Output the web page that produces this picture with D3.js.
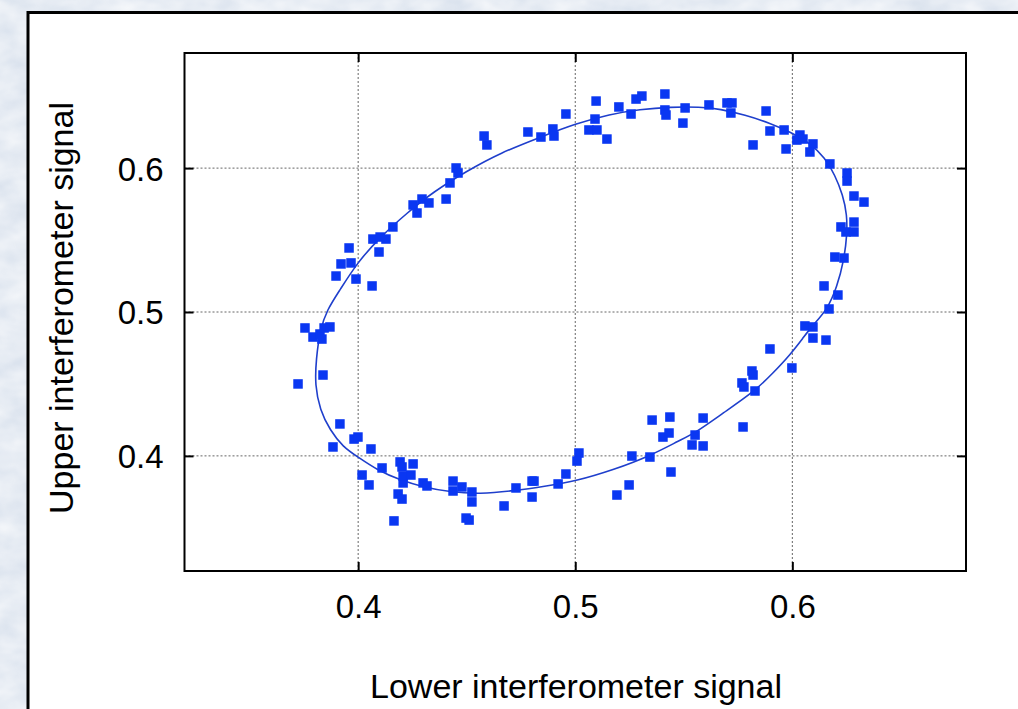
<!DOCTYPE html>
<html>
<head>
<meta charset="utf-8">
<script src="https://cdn.jsdelivr.net/npm/d3@7"></script>
<style>
  body { margin: 0; overflow: hidden; }
</style>
</head>
<body>
<script>
// measured points (lower signal, upper signal)
let lowerSignal = [
    0.3723, 0.3755, 0.3792, 0.3824, 0.3833, 0.3843, 0.3870, 0.3838, 0.3884, 0.3916,
    0.3898, 0.3921, 0.3958, 0.3967, 0.3990, 0.4064, 0.4068, 0.4096, 0.4101, 0.4128,
    0.4160, 0.4253, 0.4271, 0.4294, 0.4326, 0.4405, 0.4423, 0.4451, 0.4460, 0.4580,
    0.4593, 0.4782, 0.4842, 0.4897, 0.4902, 0.4957, 0.5063, 0.5100, 0.5091, 0.5096,
    0.5146, 0.5201, 0.5257, 0.5280, 0.5307, 0.5413, 0.5413, 0.5418, 0.5496, 0.5506,
    0.5616, 0.5699, 0.5722, 0.5717, 0.5879, 0.5897, 0.5962, 0.5819, 0.5971, 0.6035,
    0.6021, 0.6049, 0.6095, 0.6081, 0.6173, 0.6252, 0.6252, 0.6284, 0.6330, 0.6224,
    0.6284, 0.6247, 0.6284, 0.6196, 0.6238, 0.6146, 0.6210, 0.6169, 0.6058, 0.6095,
    0.6095, 0.6155, 0.5897, 0.5998, 0.5814, 0.5819, 0.5768, 0.5777, 0.5828, 0.5773,
    0.5589, 0.5552, 0.5538, 0.5589, 0.5354, 0.5436, 0.5404, 0.5432, 0.5441, 0.5344,
    0.5261, 0.5248, 0.5192, 0.5017, 0.5008, 0.4957, 0.4921, 0.4801, 0.4810, 0.4801,
    0.4727, 0.4672, 0.4524, 0.4524, 0.4478, 0.4437, 0.4437, 0.4497, 0.4511, 0.4299,
    0.4317, 0.4165, 0.4184, 0.4202, 0.4207, 0.4207, 0.4243, 0.4193, 0.4202, 0.4253,
    0.4110, 0.4018, 0.4050, 0.4059, 0.3981, 0.3999
];
let upperSignal = [
    0.4500, 0.4889, 0.4826, 0.4847, 0.4812, 0.4889, 0.4896, 0.4562, 0.4062, 0.4222,
    0.5250, 0.5334, 0.5445, 0.5341, 0.5229, 0.5181, 0.5507, 0.5417, 0.5521, 0.5507,
    0.5591, 0.5744, 0.5688, 0.5785, 0.5758, 0.5785, 0.5897, 0.6001, 0.5966, 0.6223,
    0.6161, 0.6251, 0.6216, 0.6272, 0.6223, 0.6376, 0.6265, 0.6265, 0.6341, 0.6466,
    0.6202, 0.6425, 0.6376, 0.6480, 0.6501, 0.6515, 0.6404, 0.6369, 0.6313, 0.6418,
    0.6439, 0.6453, 0.6453, 0.6383, 0.6397, 0.6258, 0.6265, 0.6161, 0.6133, 0.6230,
    0.6195, 0.6202, 0.6168, 0.6112, 0.6029, 0.5966, 0.5910, 0.5806, 0.5764, 0.5591,
    0.5625, 0.5556, 0.5556, 0.5382, 0.5375, 0.5181, 0.5118, 0.5021, 0.4903, 0.4896,
    0.4819, 0.4805, 0.4743, 0.4611, 0.4590, 0.4562, 0.4507, 0.4479, 0.4451, 0.4201,
    0.4263, 0.4145, 0.4076, 0.4069, 0.4249, 0.4270, 0.4131, 0.4159, 0.3888, 0.3992,
    0.3999, 0.3798, 0.3728, 0.4020, 0.3964, 0.3874, 0.3805, 0.3825, 0.3825, 0.3714,
    0.3777, 0.3652, 0.3749, 0.3680, 0.3784, 0.3825, 0.3756, 0.3568, 0.3554, 0.3812,
    0.3791, 0.3548, 0.3735, 0.3700, 0.3812, 0.3860, 0.3867, 0.3958, 0.3923, 0.3944,
    0.3916, 0.3867, 0.3798, 0.4048, 0.4117, 0.4131
];

// fitted ellipse
let fitX = [
    0.3801, 0.3806, 0.3824, 0.3856, 0.3916, 0.3995, 0.4101, 0.4225, 0.4345, 0.4501,
    0.4653, 0.4851, 0.4999, 0.5160, 0.5298, 0.5436, 0.5575, 0.5667, 0.5782, 0.5897,
    0.5989, 0.6081, 0.6151, 0.6196, 0.6233, 0.6252, 0.6252, 0.6238, 0.6206, 0.6160,
    0.6095, 0.6049, 0.5989, 0.5911, 0.5828, 0.5681, 0.5552, 0.5483, 0.5344, 0.5174,
    0.5003, 0.4870, 0.4713, 0.4561, 0.4423, 0.4299, 0.4193, 0.4087, 0.3999, 0.3930,
    0.3870, 0.3824
];
let fitY = [
    0.4493, 0.4666, 0.4875, 0.5014, 0.5153, 0.5341, 0.5521, 0.5688, 0.5834, 0.5980,
    0.6105, 0.6222, 0.6307, 0.6375, 0.6408, 0.6425, 0.6425, 0.6411, 0.6369, 0.6313,
    0.6251, 0.6175, 0.6070, 0.5952, 0.5813, 0.5674, 0.5535, 0.5361, 0.5174, 0.5014,
    0.4910, 0.4819, 0.4701, 0.4576, 0.4451, 0.4298, 0.4159, 0.4110, 0.3999, 0.3902,
    0.3825, 0.3791, 0.3756, 0.3735, 0.3749, 0.3784, 0.3832, 0.3902, 0.3992, 0.4062,
    0.4180, 0.4319
];

let xTicks = [0.4, 0.5, 0.6];
let yTicks = [0.4, 0.5, 0.6];
let xDomain = [0.32, 0.68];
let yDomain = [0.32, 0.68];

let width = 1018;
let height = 709;
let frame = { left: 184.5, right: 966, top: 53, bottom: 571 };
let font = "'Liberation Sans', Arial, Helvetica, sans-serif";

let points = lowerSignal.map((d, i) => ({ x: d, y: upperSignal[i] }));
let fit = fitX.map((d, i) => ({ x: d, y: fitY[i] }));

let svg = d3.select("body")
    .append("svg")
    .attr("width", width)
    .attr("height", height);

// textured light blue backdrop
let defs = svg.append("defs");
let tex = defs.append("filter")
    .attr("id", "tex")
    .attr("x", 0).attr("y", 0)
    .attr("width", 1).attr("height", 1);
tex.append("feTurbulence")
    .attr("type", "fractalNoise")
    .attr("baseFrequency", "0.03 0.05")
    .attr("numOctaves", 3)
    .attr("seed", 7);
tex.append("feColorMatrix")
    .attr("type", "matrix")
    .attr("values", "0 0 0 0 1  0 0 0 0 1  0 0 0 0 1  0 0 0 -1.2 1.0");

svg.append("rect")
    .attr("width", width)
    .attr("height", height)
    .attr("fill", "#dbe3ee");
svg.append("rect")
    .attr("width", width)
    .attr("height", height)
    .attr("filter", "url(#tex)")
    .attr("opacity", 0.8);

// white panel
svg.append("rect")
    .attr("x", 28)
    .attr("y", 12.5)
    .attr("width", 1100)
    .attr("height", 800)
    .attr("fill", "white")
    .attr("stroke", "black")
    .attr("stroke-width", 3);

let xScale = d3.scaleLinear()
    .domain(xDomain)
    .range([frame.left, frame.right]);
let yScale = d3.scaleLinear()
    .domain(yDomain)
    .range([frame.bottom, frame.top]);

// grid
let grid = svg.append("g").attr("class", "grid");
grid.selectAll("nothing")
    .data(xTicks)
    .join("line")
    .attr("x1", (d) => xScale(d))
    .attr("x2", (d) => xScale(d))
    .attr("y1", frame.top)
    .attr("y2", frame.bottom);
grid.selectAll("nothing")
    .data(yTicks)
    .join("line")
    .attr("x1", frame.left)
    .attr("x2", frame.right)
    .attr("y1", (d) => yScale(d))
    .attr("y2", (d) => yScale(d));
grid.selectAll("line")
    .attr("stroke", "#666")
    .attr("stroke-width", 1)
    .attr("stroke-dasharray", "2,2");

// axes with inward ticks
let xAxis = d3.axisBottom(xScale)
    .tickValues(xTicks)
    .tickFormat(d3.format(".1f"))
    .tickSizeInner(-9)
    .tickSizeOuter(0)
    .tickPadding(24);
let yAxis = d3.axisLeft(yScale)
    .tickValues(yTicks)
    .tickFormat(d3.format(".1f"))
    .tickSizeInner(-9)
    .tickSizeOuter(0)
    .tickPadding(21);
let xTop = d3.axisTop(xScale).tickValues(xTicks).tickFormat("").tickSizeInner(-9).tickSizeOuter(0);
let yRight = d3.axisRight(yScale).tickValues(yTicks).tickFormat("").tickSizeInner(-9).tickSizeOuter(0);

svg.append("g")
    .attr("class", "axis")
    .attr("transform", "translate(0," + frame.bottom + ")")
    .call(xAxis);
svg.append("g")
    .attr("class", "axis")
    .attr("transform", "translate(" + frame.left + ",0)")
    .call(yAxis);
svg.append("g")
    .attr("class", "axis")
    .attr("transform", "translate(0," + frame.top + ")")
    .call(xTop);
svg.append("g")
    .attr("class", "axis")
    .attr("transform", "translate(" + frame.right + ",0)")
    .call(yRight);

svg.selectAll(".axis .domain").remove();
svg.selectAll(".axis line")
    .attr("stroke", "black")
    .attr("stroke-width", 2);
svg.selectAll(".axis text")
    .style("font-size", "33px")
    .style("font-family", font)
    .attr("fill", "black");
svg.selectAll(".axis text")
    .filter(function () { return this.getAttribute("x") !== null && +this.getAttribute("x") < 0; })
    .attr("dy", "0.36em");

// frame
svg.append("rect")
    .attr("x", frame.left)
    .attr("y", frame.top)
    .attr("width", frame.right - frame.left)
    .attr("height", frame.bottom - frame.top)
    .attr("fill", "none")
    .attr("stroke", "black")
    .attr("stroke-width", 2);

// fitted ellipse
let fitLine = d3.line()
    .x((d) => xScale(d.x))
    .y((d) => yScale(d.y))
    .curve(d3.curveBasisClosed);
svg.append("path")
    .attr("d", fitLine(fit))
    .attr("fill", "none")
    .attr("stroke", "#1f3fcc")
    .attr("stroke-width", 1.6);

// measured points
let size = 9.5;
svg.append("g")
    .selectAll("rect")
    .data(points)
    .join("rect")
    .attr("x", (d) => xScale(d.x) - size / 2)
    .attr("y", (d) => yScale(d.y) - size / 2)
    .attr("width", size)
    .attr("height", size)
    .attr("fill", "#0a37f2");

// axis titles
svg.append("text")
    .attr("x", 576)
    .attr("y", 698)
    .attr("text-anchor", "middle")
    .text("Lower interferometer signal")
    .style("font-size", "34px")
    .style("font-family", font);

svg.append("text")
    .attr("transform", "translate(73,308) rotate(-90)")
    .attr("text-anchor", "middle")
    .text("Upper interferometer signal")
    .style("font-size", "34px")
    .style("font-family", font);
</script>
</body>
</html>
